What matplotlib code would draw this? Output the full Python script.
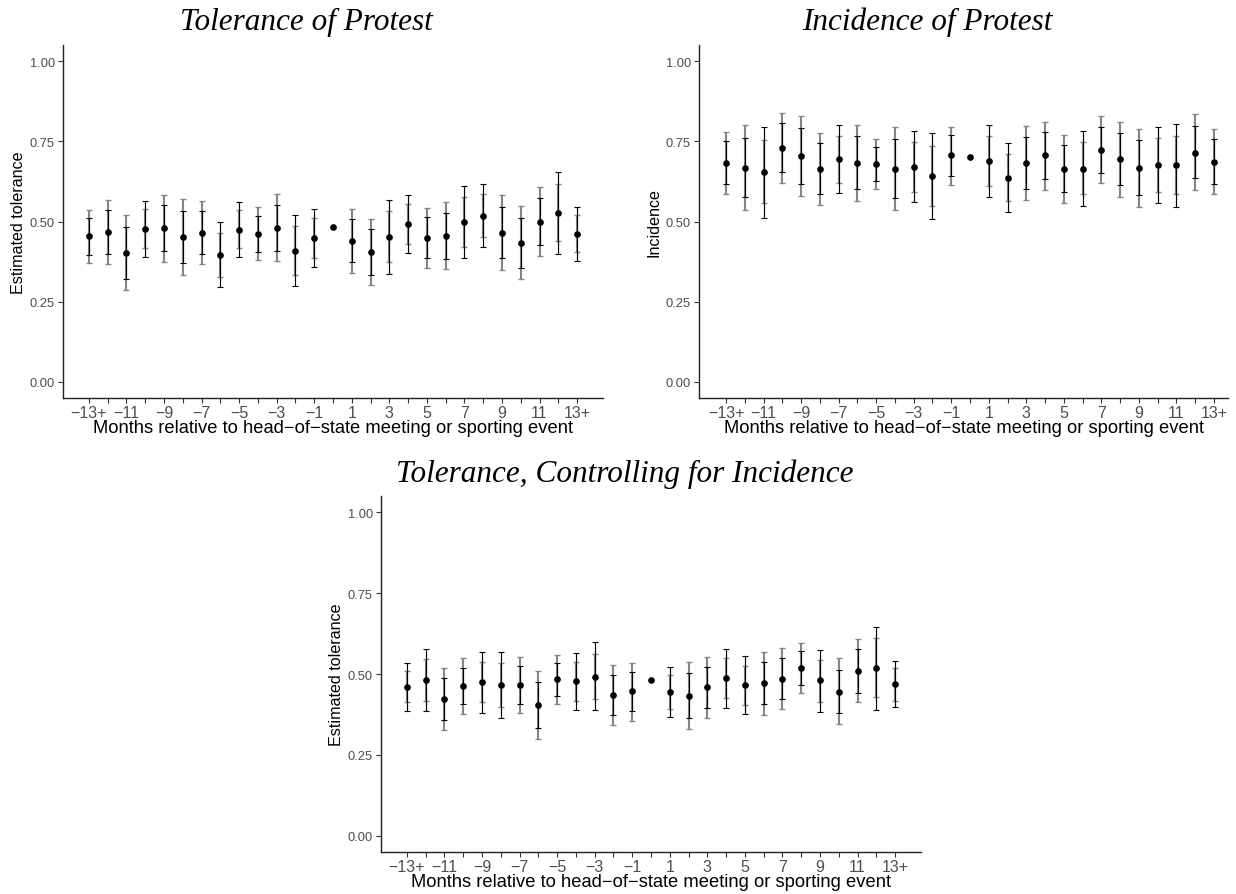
import numpy as np
import matplotlib
matplotlib.use('Agg')
import matplotlib.pyplot as plt

# months relative to the event, -13+ ... 13+ (0 is the reference month)
months = np.arange(-13, 14)
tick_months = [-13, -11, -9, -7, -5, -3, -1, 1, 3, 5, 7, 9, 11, 13]
tick_text = ['\u221213+', '\u221211', '\u22129', '\u22127', '\u22125', '\u22123', '\u22121',
             '1', '3', '5', '7', '9', '11', '13+']
nan = np.nan

# Tolerance of Protest
tol_est = [0.454, 0.468, 0.402, 0.478, 0.480, 0.451, 0.465, 0.396, 0.475, 0.462, 0.480, 0.409, 0.450, 0.482,
           0.439, 0.406, 0.453, 0.491, 0.450, 0.456, 0.498, 0.518, 0.465, 0.434, 0.499, 0.526, 0.461]
tol_black_hi = [0.512, 0.536, 0.482, 0.564, 0.550, 0.533, 0.533, 0.497, 0.562, 0.518, 0.551, 0.519, 0.540, nan,
                0.508, 0.476, 0.567, 0.582, 0.513, 0.528, 0.611, 0.616, 0.544, 0.512, 0.574, 0.654, 0.546]
tol_black_lo = [0.396, 0.400, 0.322, 0.390, 0.407, 0.370, 0.398, 0.295, 0.388, 0.405, 0.409, 0.298, 0.357, nan,
                0.373, 0.334, 0.336, 0.401, 0.386, 0.384, 0.386, 0.421, 0.385, 0.356, 0.426, 0.398, 0.377]
tol_gray_hi = [0.537, 0.567, 0.519, 0.538, 0.583, 0.569, 0.563, 0.465, 0.535, 0.545, 0.585, 0.485, 0.512, nan,
               0.539, 0.507, 0.532, 0.553, 0.543, 0.560, 0.575, 0.586, 0.582, 0.547, 0.609, 0.616, 0.519]
tol_gray_lo = [0.370, 0.367, 0.285, 0.418, 0.374, 0.332, 0.367, 0.327, 0.416, 0.379, 0.376, 0.332, 0.387, nan,
               0.341, 0.301, 0.373, 0.429, 0.355, 0.351, 0.422, 0.451, 0.348, 0.321, 0.391, 0.438, 0.404]

# Incidence of Protest
inc_est = [0.682, 0.668, 0.654, 0.729, 0.705, 0.665, 0.694, 0.682, 0.679, 0.665, 0.671, 0.643, 0.706, 0.700,
           0.688, 0.637, 0.682, 0.706, 0.665, 0.665, 0.724, 0.694, 0.668, 0.676, 0.675, 0.715, 0.686]
inc_black_hi = [0.751, 0.760, 0.796, 0.806, 0.791, 0.744, 0.800, 0.765, 0.733, 0.756, 0.781, 0.777, 0.768, nan,
                0.801, 0.744, 0.763, 0.779, 0.737, 0.781, 0.796, 0.775, 0.753, 0.794, 0.805, 0.799, 0.757]
inc_black_lo = [0.616, 0.575, 0.512, 0.653, 0.618, 0.586, 0.588, 0.600, 0.626, 0.574, 0.560, 0.509, 0.643, nan,
                0.576, 0.531, 0.602, 0.631, 0.591, 0.549, 0.650, 0.613, 0.583, 0.558, 0.544, 0.634, 0.616]
inc_gray_hi = [0.780, 0.800, 0.754, 0.838, 0.829, 0.776, 0.767, 0.801, 0.756, 0.794, 0.748, 0.736, 0.795, nan,
               0.767, 0.711, 0.798, 0.810, 0.769, 0.747, 0.829, 0.810, 0.789, 0.759, 0.765, 0.834, 0.787]
inc_gray_lo = [0.586, 0.536, 0.557, 0.621, 0.580, 0.552, 0.620, 0.564, 0.602, 0.535, 0.593, 0.549, 0.615, nan,
               0.610, 0.563, 0.568, 0.599, 0.559, 0.585, 0.619, 0.577, 0.546, 0.593, 0.585, 0.599, 0.586]

# Tolerance, Controlling for Incidence
ctl_est = [0.461, 0.482, 0.422, 0.463, 0.475, 0.467, 0.466, 0.403, 0.484, 0.478, 0.492, 0.434, 0.446, 0.481,
           0.445, 0.433, 0.459, 0.487, 0.465, 0.472, 0.486, 0.520, 0.480, 0.445, 0.510, 0.520, 0.468]
ctl_black_hi = [0.535, 0.578, 0.487, 0.519, 0.569, 0.569, 0.525, 0.475, 0.535, 0.566, 0.598, 0.496, 0.505, nan,
                0.522, 0.503, 0.521, 0.578, 0.555, 0.536, 0.550, 0.572, 0.575, 0.511, 0.578, 0.645, 0.540]
ctl_black_lo = [0.387, 0.386, 0.358, 0.406, 0.381, 0.364, 0.408, 0.333, 0.432, 0.389, 0.389, 0.373, 0.386, nan,
                0.366, 0.364, 0.395, 0.396, 0.375, 0.407, 0.422, 0.467, 0.383, 0.378, 0.440, 0.390, 0.398]
ctl_gray_hi = [0.510, 0.547, 0.518, 0.548, 0.538, 0.535, 0.553, 0.509, 0.560, 0.537, 0.563, 0.527, 0.535, nan,
               0.497, 0.536, 0.553, 0.549, 0.525, 0.568, 0.581, 0.597, 0.544, 0.548, 0.608, 0.610, 0.518]
ctl_gray_lo = [0.412, 0.417, 0.327, 0.377, 0.412, 0.397, 0.380, 0.298, 0.407, 0.418, 0.422, 0.342, 0.356, nan,
               0.391, 0.330, 0.364, 0.426, 0.405, 0.374, 0.391, 0.442, 0.415, 0.345, 0.412, 0.430, 0.418]

plt.rcParams['font.family'] = 'Liberation Sans'

W, H = 1236, 895
fig = plt.figure(figsize=(W / 100, H / 100), dpi=100)


def px_axes(x0, x1, ytop, ybot):
    return fig.add_axes([x0 / W, 1 - ybot / H, (x1 - x0) / W, (ybot - ytop) / H])


def draw_panel(ax, est, b_lo, b_hi, g_lo, g_hi, ylabel, xlim):
    est = np.array(est)
    b_lo, b_hi = np.array(b_lo), np.array(b_hi)
    g_lo, g_hi = np.array(g_lo), np.array(g_hi)
    ok = ~np.isnan(b_lo)
    # gray interval underneath, thin black interval on top
    ax.errorbar(months[ok], est[ok], yerr=[est[ok] - g_lo[ok], g_hi[ok] - est[ok]], fmt='none',
                ecolor='#858585', elinewidth=1.5, capsize=1.9, capthick=1.0)
    ax.errorbar(months[ok], est[ok], yerr=[est[ok] - b_lo[ok], b_hi[ok] - est[ok]], fmt='none',
                ecolor='black', elinewidth=0.85, capsize=1.9, capthick=0.8)
    ax.plot(months, est, 'o', color='black', markersize=3.8, zorder=5)

    ax.set_xlim(*xlim)
    ax.set_ylim(-0.05, 1.05)
    ax.set_yticks([0, 0.25, 0.5, 0.75, 1.0])
    ax.set_yticklabels(['0.00', '0.25', '0.50', '0.75', '1.00'])
    ax.set_xticks(months, minor=True)
    ax.set_xticks(tick_months)
    ax.set_xticklabels(tick_text)
    ax.tick_params(which='both', direction='out', length=3.8, width=0.8, color='#333333',
                   labelcolor='#4d4d4d', pad=2)
    ax.tick_params(axis='y', labelsize=9.3)
    ax.tick_params(axis='x', labelsize=11.5, pad=1.5)
    ax.tick_params(which='minor', labelbottom=False)
    for s in ['top', 'right']:
        ax.spines[s].set_visible(False)
    for s in ['left', 'bottom']:
        ax.spines[s].set_linewidth(1.0)
        ax.spines[s].set_color('#222222')
    ax.set_xlabel('Months relative to head\u2212of\u2212state meeting or sporting event',
                  fontsize=13.2, labelpad=-1)
    ax.set_ylabel(ylabel, fontsize=11.6, labelpad=3)


ax1 = px_axes(63, 603, 46, 399)
draw_panel(ax1, tol_est, tol_black_lo, tol_black_hi, tol_gray_lo, tol_gray_hi,
           'Estimated tolerance', (-14.38, 14.38))

ax2 = px_axes(699, 1228, 46, 399)
draw_panel(ax2, inc_est, inc_black_lo, inc_black_hi, inc_gray_lo, inc_gray_hi,
           'Incidence', (-14.44, 13.75))

ax3 = px_axes(381, 921, 497, 853)
draw_panel(ax3, ctl_est, ctl_black_lo, ctl_black_hi, ctl_gray_lo, ctl_gray_hi,
           'Estimated tolerance', (-14.38, 14.38))

title_font = dict(family='Liberation Serif', style='italic', fontsize=22.5, ha='center', va='baseline')
fig.text(306 / W, 1 - 30 / H, 'Tolerance of Protest', **title_font)
fig.text(927 / W, 1 - 30 / H, 'Incidence of Protest', **title_font)
fig.text(625 / W, 1 - 482 / H, 'Tolerance, Controlling for Incidence', **title_font)

fig.savefig('out.png', dpi=100)
